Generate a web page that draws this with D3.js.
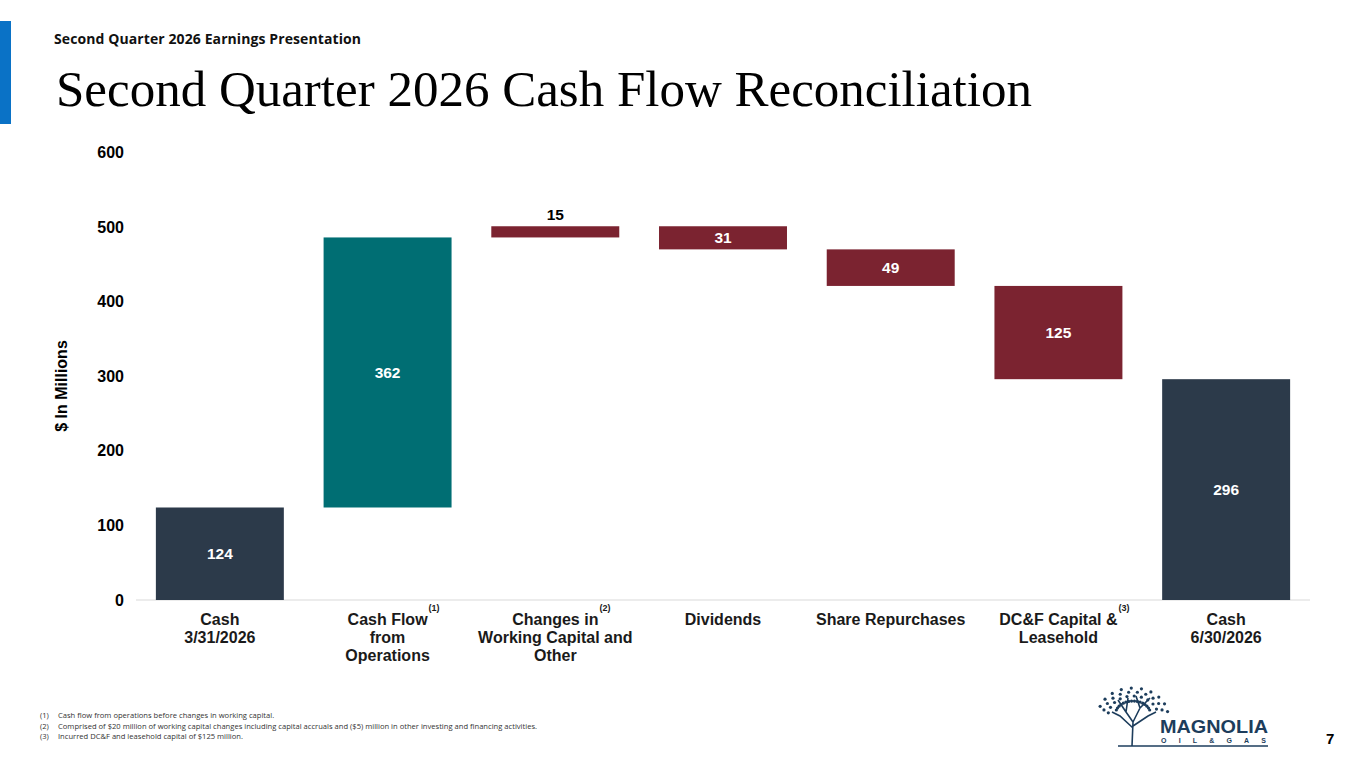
<!DOCTYPE html>
<html lang="en">
<head>
<meta charset="UTF-8">
<title>Second Quarter 2026 Cash Flow Reconciliation</title>
<script src="https://cdnjs.cloudflare.com/ajax/libs/d3/7.8.5/d3.min.js"></script>
<style>
    body { margin: 0; background: #ffffff; }
    svg { display: block; }
</style>
</head>
<body>
<svg width="1365" height="768"></svg>
<script>
    // waterfall data
    var steps = ["Cash\n3/31/2026", "Cash Flow\nfrom\nOperations", "Changes in\nWorking Capital and\nOther",
        "Dividends", "Share Repurchases", "DC&F Capital &\nLeasehold", "Cash\n6/30/2026"];
    var amounts = [124, 362, 15, -31, -49, -125, 296];
    var kinds = ["total", "inflow", "change", "change", "change", "change", "total"];
    var noteMarks = ["", "(1)", "(2)", "", "", "(3)", ""];
    var yTicks = [0, 100, 200, 300, 400, 500, 600];
    var footnotes = [
        ["(1)", "Cash flow from operations before changes in working capital."],
        ["(2)", "Comprised of $20 million of working capital changes including capital accruals and ($5) million in other investing and financing activities."],
        ["(3)", "Incurred DC&F and leasehold capital of $125 million."]
    ];

    var colors = { total: "#2c3a4a", inflow: "#006e73", change: "#7b2330" };
    var svg = d3.select("svg");

    // header
    svg.append("rect").attr("x", 0).attr("y", 21).attr("width", 11).attr("height", 103).attr("fill", "#0a72c6");
    svg.append("text").attr("x", 54).attr("y", 44)
        .style("font-family", "'Open Sans', sans-serif").style("font-weight", 700).style("font-size", "14px")
        .attr("textLength", 307).attr("fill", "#111")
        .text("Second Quarter 2026 Earnings Presentation");
    svg.append("text").attr("x", 56).attr("y", 106)
        .style("font-family", "'Liberation Serif', 'Times New Roman', serif").style("font-size", "51px")
        .attr("fill", "#000")
        .text("Second Quarter 2026 Cash Flow Reconciliation");

    // build the running totals
    var running = 0;
    var bars = amounts.map(function (v, i) {
        var lo, hi;
        if (kinds[i] === "total") {
            lo = 0; hi = v; running = v;
        } else {
            lo = Math.min(running, running + v);
            hi = Math.max(running, running + v);
            running += v;
        }
        return { name: steps[i], value: Math.abs(v), lo: lo, hi: hi, kind: kinds[i], note: noteMarks[i] };
    });

    var x = d3.scaleBand().domain(steps).range([136, 1310]).paddingInner(0.237).paddingOuter(0.1185);
    var y = d3.scaleLinear().domain([0, 600]).range([600, 152.4]);

    var font = "'Liberation Sans', Arial, sans-serif";

    // y axis (labels only)
    var yAxis = svg.append("g").attr("transform", "translate(136,0)")
        .call(d3.axisLeft(y).tickValues(yTicks).tickSize(0).tickPadding(12));
    yAxis.select(".domain").remove();
    yAxis.selectAll("text").style("font-family", font).style("font-weight", 700)
        .style("font-size", "16px").attr("fill", "#000");

    svg.append("text").attr("transform", "translate(67,386) rotate(-90)")
        .attr("text-anchor", "middle")
        .style("font-family", font).style("font-weight", 700).style("font-size", "16px")
        .text("$ In Millions");

    // baseline
    svg.append("line").attr("x1", 136).attr("x2", 1310).attr("y1", y(0)).attr("y2", y(0))
        .attr("stroke", "#d9d9d9").attr("stroke-width", 1);

    // bars
    svg.append("g").selectAll("rect").data(bars).enter().append("rect")
        .attr("x", d => x(d.name))
        .attr("width", x.bandwidth())
        .attr("y", d => y(d.hi))
        .attr("height", d => y(d.lo) - y(d.hi))
        .attr("fill", d => colors[d.kind]);

    // value labels: inside if bar is tall enough, else above
    svg.append("g").selectAll("text").data(bars).enter().append("text")
        .attr("x", d => x(d.name) + x.bandwidth() / 2)
        .attr("y", function (d) {
            var h = y(d.lo) - y(d.hi);
            return h > 18 ? (y(d.lo) + y(d.hi)) / 2 + 5.5 : y(d.hi) - 6;
        })
        .attr("text-anchor", "middle")
        .style("font-family", font).style("font-weight", 700).style("font-size", "15.5px")
        .attr("fill", d => (y(d.lo) - y(d.hi)) > 18 ? "#ffffff" : "#000000")
        .text(d => d.value);

    // category labels
    var cats = svg.append("g").selectAll("g").data(bars).enter().append("g")
        .attr("transform", d => "translate(" + (x(d.name) + x.bandwidth() / 2) + ",625)");
    cats.each(function (d) {
        var g = d3.select(this);
        var lines = d.name.split("\n");
        var first;
        lines.forEach(function (ln, k) {
            var t = g.append("text").attr("y", k * 18).attr("text-anchor", "middle")
                .style("font-family", font).style("font-weight", 700).style("font-size", "16px")
                .attr("fill", "#1a1a1a").text(ln);
            if (k === 0) first = t;
        });
        if (d.note) {
            var w = first.node().getComputedTextLength();
            g.append("text").attr("x", w / 2 + 1).attr("y", -14)
                .style("font-family", font).style("font-weight", 700).style("font-size", "9px")
                .attr("fill", "#1a1a1a").text(d.note);
        }
    });

    // footnotes
    var fn = svg.append("g").selectAll("g").data(footnotes).enter().append("g")
        .attr("transform", (d, i) => "translate(40," + (718 + i * 10.5) + ")");
    fn.append("text").text(d => d[0])
        .style("font-family", "'Open Sans', sans-serif").style("font-size", "7.6px").attr("fill", "#333");
    fn.append("text").attr("x", 18).text(d => d[1])
        .style("font-family", "'Open Sans', sans-serif").style("font-size", "7.6px").attr("fill", "#333");

    // logo
    var logo = svg.append("g");
    var navy = "#1d3d5c";
    logo.append("path")
        .attr("d", "M1132,746 L1133,722 L1126,712 M1133,722 L1140,708 M1133,728 L1120,716 L1112,712 M1133,726 L1148,716 L1156,712 M1126,712 L1118,700 M1140,708 L1136,696 M1140,708 L1150,698 M1126,712 L1128,698")
        .attr("stroke", navy).attr("stroke-width", 1.6).attr("fill", "none");
    var leaves = [];
    for (var a = 0; a < 30; a++) {
        var ang = Math.PI * (0.05 + 0.9 * a / 29);
        var r = 20 + (a % 3) * 4;
        leaves.push([1133 - r * 1.25 * Math.cos(ang), 716 - r * Math.sin(ang)]);
    }
    for (var b = 0; b < 16; b++) {
        var ang2 = Math.PI * (0.1 + 0.8 * b / 15);
        leaves.push([1133 - 14 * 1.25 * Math.cos(ang2), 714 - 13 * Math.sin(ang2)]);
    }
    logo.selectAll("circle").data(leaves).enter().append("circle")
        .attr("cx", d => d[0]).attr("cy", d => d[1]).attr("r", 1.6).attr("fill", navy);
    logo.append("text").attr("x", 1160).attr("y", 733)
        .style("font-family", font).style("font-weight", 700).style("font-size", "19px")
        .attr("textLength", 108).attr("lengthAdjust", "spacingAndGlyphs")
        .attr("fill", navy).text("MAGNOLIA");
    logo.append("text").attr("x", 1161).attr("y", 743)
        .style("font-family", font).style("font-weight", 900).style("font-size", "7px")
        .attr("textLength", 105).attr("fill", navy).text("OIL&GAS");
    logo.append("line").attr("x1", 1118).attr("x2", 1268).attr("y1", 746).attr("y2", 746)
        .attr("stroke", navy).attr("stroke-width", 1.4);

    svg.append("text").attr("x", 1326).attr("y", 744)
        .style("font-family", font).style("font-weight", 700).style("font-size", "15px")
        .text("7");
</script>
</body>
</html>
